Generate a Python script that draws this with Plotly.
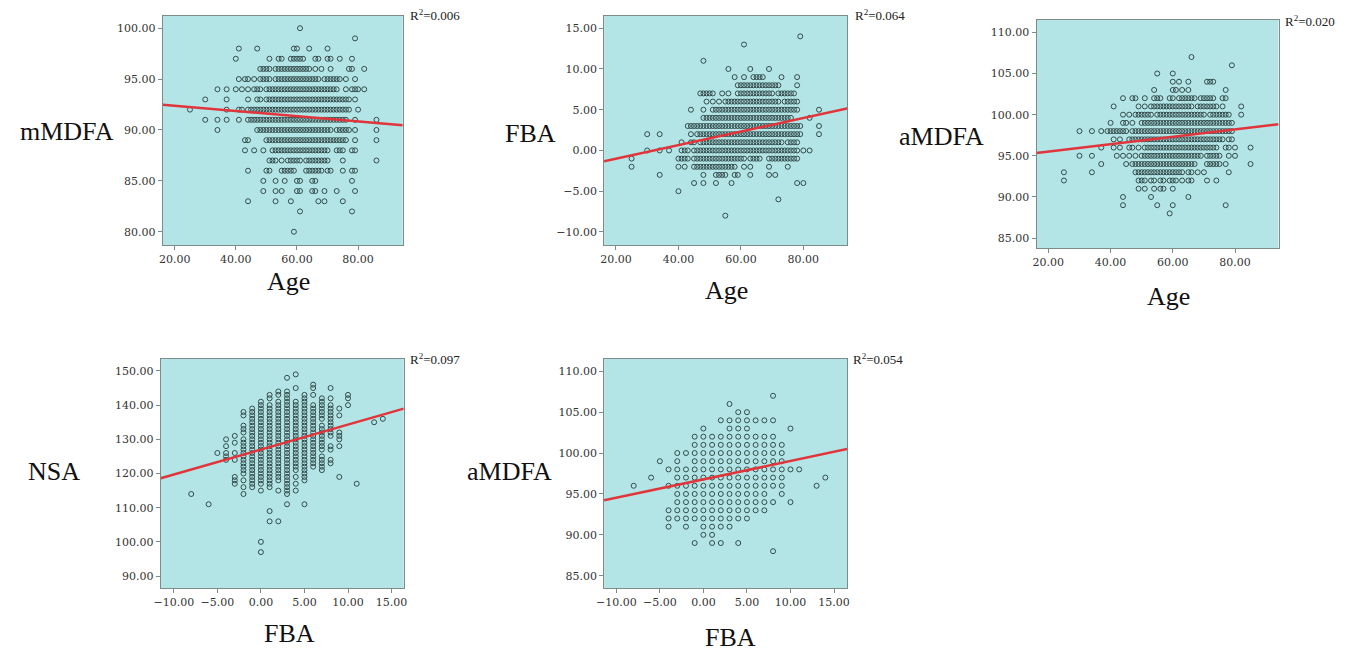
import plotly.graph_objects as go

W, H = 1349, 652

# ---------------- Panel 1: mMDFA vs Age (rows: y value -> ages) ----------------
P1_Y = [100, 99, 98, 97, 96, 95, 94, 93, 92, 91, 90, 89, 88, 87, 86, 85, 84, 83, 82, 80]
P1_X = [
    [61],
    [79],
    [41, 47, 59, 60, 64, 70],
    [40, 51, 54, 55, 58, 59, 60, 61, 62, 66, 67, 70, 71, 74, 78],
    [48, 49, 50, 51, 53, 54, 55, 56, 57, 58, 59, 60, 61, 62, 63, 64, 66, 68, 71, 77, 78, 82],
    [41, 43, 44, 46, 48, 49, 50, 51, 53, 54, 55, 56, 57, 58, 59, 60, 61, 62, 63, 64, 65, 66, 67, 69, 70, 71, 72, 73, 74, 76, 79],
    [34, 37, 40, 42, 44, 46, 47, 48, 50, 51, 52, 53, 54, 55, 56, 57, 58, 59, 60, 61, 62, 63, 64, 65, 66, 67, 68, 69, 70, 71, 72, 73, 76, 78, 79, 80, 82],
    [30, 37, 44, 47, 48, 50, 51, 52, 53, 54, 55, 56, 57, 58, 59, 60, 61, 62, 63, 64, 65, 66, 67, 68, 69, 70, 71, 72, 73, 74, 75, 76, 77, 79],
    [25, 37, 41, 42, 44, 45, 46, 47, 48, 49, 50, 51, 52, 53, 54, 55, 56, 57, 58, 59, 60, 61, 62, 63, 64, 65, 66, 67, 68, 69, 70, 71, 72, 73, 74, 75, 76, 77, 80],
    [30, 34, 37, 41, 44, 45, 46, 47, 48, 49, 50, 51, 52, 53, 54, 55, 56, 57, 58, 59, 60, 61, 62, 63, 64, 65, 66, 67, 68, 69, 70, 71, 72, 73, 74, 75, 76, 79, 86],
    [34, 47, 48, 49, 50, 51, 52, 53, 54, 55, 56, 57, 58, 59, 60, 61, 62, 63, 64, 65, 66, 67, 68, 69, 70, 71, 73, 74, 75, 76, 77, 79, 86],
    [43, 44, 50, 51, 52, 53, 54, 55, 56, 57, 58, 59, 60, 61, 62, 63, 64, 65, 66, 67, 68, 69, 70, 71, 72, 73, 74, 75, 76, 79, 86],
    [43, 46, 49, 52, 53, 54, 55, 56, 57, 58, 59, 60, 61, 62, 63, 64, 65, 66, 67, 68, 69, 70, 73, 74, 75, 78, 79],
    [51, 52, 53, 55, 57, 58, 59, 60, 61, 63, 64, 65, 66, 67, 68, 69, 70, 75, 86],
    [44, 50, 51, 55, 56, 57, 58, 59, 63, 64, 65, 66, 67, 68, 70, 71, 75, 78, 79],
    [49, 53, 56, 60, 61, 65, 66, 78],
    [49, 53, 55, 60, 61, 65, 66, 69, 73, 79],
    [44, 53, 58, 67, 69, 75],
    [61, 78],
    [59],
]

# ---------------- Panel 2: FBA vs Age ----------------
P2_Y = [14, 13, 11, 10, 9, 8, 7, 6, 5, 4, 3, 2, 1, 0, -1, -2, -3, -4, -5, -6, -8]
P2_X = [
    [79],
    [61],
    [48],
    [56, 63, 69],
    [58, 61, 64, 65, 66, 67, 73, 78],
    [59, 60, 61, 62, 63, 64, 65, 66, 67, 68, 69, 70, 71, 72, 78],
    [47, 48, 49, 50, 51, 54, 56, 59, 60, 61, 62, 63, 64, 65, 66, 67, 68, 69, 70, 72, 73, 74, 75, 76, 77],
    [49, 51, 53, 55, 56, 57, 58, 59, 60, 61, 62, 63, 64, 65, 66, 67, 68, 69, 70, 71, 72, 74, 75, 76, 77, 78],
    [44, 48, 51, 52, 53, 54, 55, 56, 57, 58, 59, 60, 61, 62, 63, 64, 65, 66, 67, 68, 69, 70, 71, 72, 73, 74, 75, 76, 77, 78, 85],
    [48, 49, 50, 51, 52, 53, 54, 55, 56, 57, 58, 59, 60, 61, 62, 63, 64, 65, 66, 67, 68, 69, 70, 71, 72, 73, 74, 75, 76, 82],
    [43, 44, 45, 46, 47, 48, 49, 50, 51, 52, 53, 54, 55, 56, 57, 58, 59, 60, 61, 62, 63, 64, 65, 66, 67, 68, 69, 70, 71, 72, 73, 74, 75, 76, 77, 78, 79, 85],
    [30, 34, 44, 46, 47, 48, 49, 50, 51, 52, 53, 54, 55, 56, 57, 58, 59, 60, 61, 62, 63, 64, 65, 66, 67, 68, 69, 70, 71, 72, 73, 74, 75, 76, 77, 78, 79, 85],
    [41, 44, 45, 47, 48, 49, 50, 51, 52, 53, 54, 55, 56, 57, 58, 59, 60, 61, 62, 63, 64, 65, 66, 67, 68, 69, 70, 71, 72, 73, 75, 76, 77, 78],
    [30, 34, 37, 41, 42, 43, 45, 46, 47, 48, 49, 50, 51, 52, 53, 54, 55, 56, 57, 58, 59, 60, 61, 62, 63, 64, 65, 66, 67, 68, 69, 70, 71, 72, 73, 74, 75, 76, 77, 78, 80, 82],
    [25, 40, 41, 42, 43, 45, 46, 47, 48, 49, 50, 51, 52, 53, 54, 55, 56, 57, 58, 59, 60, 61, 63, 64, 65, 66, 69, 70, 71, 72, 73, 74, 75, 76, 77, 78],
    [25, 40, 42, 45, 46, 47, 48, 49, 50, 51, 52, 53, 54, 55, 56, 57, 58, 61, 63, 69, 75],
    [34, 48, 52, 53, 54, 55, 58, 59, 63, 69, 71],
    [45, 48, 52, 57, 78, 80],
    [40],
    [72],
    [55],
]

# ---------------- Panel 3: aMDFA vs Age ----------------
P3_Y = [107, 106, 105, 104, 103, 102, 101, 100, 99, 98, 97, 96, 95, 94, 93, 92, 91, 90, 89, 88]
P3_X = [
    [66],
    [79],
    [55, 60],
    [60, 62, 65, 71, 72, 73],
    [54, 60, 61, 63, 65, 77],
    [44, 47, 48, 51, 54, 55, 56, 59, 60, 62, 63, 64, 65, 66, 67, 69, 70, 71, 72, 73, 76, 77],
    [41, 49, 51, 53, 54, 55, 56, 57, 58, 59, 60, 61, 62, 63, 64, 65, 66, 68, 69, 70, 71, 72, 73, 74, 76, 82],
    [44, 46, 48, 49, 50, 51, 52, 53, 55, 56, 57, 58, 59, 60, 61, 62, 63, 64, 65, 66, 67, 68, 69, 70, 72, 73, 74, 75, 76, 77, 78, 82],
    [40, 44, 45, 47, 50, 51, 52, 53, 54, 55, 56, 57, 58, 59, 60, 61, 62, 63, 64, 65, 66, 67, 68, 69, 70, 71, 72, 73, 74, 75, 76, 77, 78, 79],
    [30, 34, 37, 39, 40, 41, 42, 43, 44, 45, 47, 48, 49, 50, 51, 52, 53, 54, 55, 56, 57, 58, 59, 60, 61, 62, 63, 64, 65, 66, 67, 68, 69, 70, 71, 72, 73, 74, 75, 76, 77, 78, 79],
    [41, 43, 46, 47, 48, 49, 50, 51, 52, 53, 54, 55, 56, 57, 58, 59, 60, 61, 62, 63, 64, 65, 66, 67, 68, 69, 70, 71, 72, 73, 74, 75, 76, 78, 79],
    [37, 41, 43, 46, 47, 49, 51, 52, 53, 54, 55, 56, 57, 58, 59, 60, 61, 62, 63, 64, 65, 66, 67, 68, 69, 70, 71, 72, 73, 74, 77, 78, 80, 85],
    [30, 34, 42, 44, 46, 48, 50, 51, 52, 53, 54, 55, 56, 57, 58, 59, 60, 61, 62, 63, 64, 65, 66, 67, 68, 69, 71, 72, 73, 74, 75, 78, 80],
    [37, 45, 47, 48, 49, 50, 51, 52, 53, 54, 55, 56, 57, 58, 59, 60, 61, 62, 63, 64, 65, 66, 67, 71, 72, 73, 74, 75, 77, 85],
    [25, 34, 48, 49, 50, 51, 52, 53, 54, 55, 56, 57, 58, 59, 60, 61, 62, 63, 65, 66, 68, 70, 78],
    [25, 49, 50, 51, 53, 54, 56, 57, 59, 60, 61, 63, 65, 66, 71, 74],
    [49, 51, 54, 56, 57, 60],
    [44, 53, 65],
    [44, 55, 60, 77],
    [59],
]

# ---------------- Panel 4: NSA vs FBA (columns: FBA value -> NSA values) ----------------
P4_X = [-8, -6, -5, -4, -3, -2, -1, 0, 1, 2, 3, 4, 5, 6, 7, 8, 9, 10, 11, 13, 14]
P4_Y = [
    [114],
    [111],
    [126],
    [130, 128, 126, 125, 124],
    [131, 129, 126, 124, 119, 118, 117],
    [138, 137, 134, 133, 132, 130, 129, 128, 127, 126, 125, 124, 123, 122, 121, 120, 118, 116, 114],
    [139, 138, 137, 136, 135, 134, 133, 132, 131, 130, 129, 128, 127, 126, 125, 124, 123, 122, 121, 120, 119, 118, 117, 116],
    [141, 140, 139, 138, 137, 136, 135, 134, 133, 132, 131, 130, 129, 128, 127, 126, 125, 124, 123, 122, 121, 120, 119, 118, 117, 115, 100, 97],
    [143, 142, 140, 139, 138, 137, 136, 135, 134, 133, 132, 131, 130, 129, 128, 127, 126, 125, 124, 123, 122, 121, 120, 119, 118, 117, 116, 109, 106],
    [144, 143, 141, 140, 139, 138, 137, 136, 135, 134, 133, 132, 131, 130, 129, 128, 127, 126, 125, 124, 123, 122, 121, 120, 119, 118, 115, 106],
    [148, 144, 143, 142, 141, 140, 139, 138, 137, 136, 135, 134, 133, 132, 131, 130, 129, 128, 127, 126, 125, 124, 123, 122, 121, 120, 119, 118, 117, 116, 115, 114, 111],
    [149, 145, 141, 140, 139, 138, 137, 136, 135, 134, 133, 132, 131, 130, 129, 128, 127, 126, 125, 124, 123, 122, 121, 119, 117, 115],
    [143, 142, 141, 140, 139, 138, 137, 136, 135, 134, 133, 132, 131, 130, 129, 128, 127, 126, 125, 124, 123, 122, 121, 120, 119, 118, 111],
    [146, 145, 143, 140, 139, 138, 137, 136, 135, 134, 133, 132, 131, 130, 129, 128, 127, 126, 125, 124, 123, 122],
    [142, 141, 140, 139, 138, 137, 136, 134, 133, 132, 131, 130, 129, 128, 127, 125, 124, 123, 122, 121],
    [145, 142, 140, 139, 138, 137, 136, 135, 134, 133, 132, 131, 128, 127, 124, 123],
    [139, 137, 132, 131, 130, 128, 119],
    [143, 142, 140],
    [117],
    [135],
    [136],
]

# ---------------- Panel 5: aMDFA vs FBA (rows: aMDFA value -> FBA values) ----------------
P5_Y = [107, 106, 105, 104, 103, 102, 101, 100, 99, 98, 97, 96, 95, 94, 93, 92, 91, 90, 89, 88]
P5_X = [
    [8],
    [3],
    [4, 5],
    [2, 3, 4, 5, 6, 7, 8],
    [0, 3, 4, 5, 10],
    [-1, 0, 1, 2, 3, 4, 5, 6, 7, 8],
    [-1, 0, 1, 2, 3, 4, 5, 6, 7, 8, 9],
    [-3, -2, -1, 0, 1, 2, 3, 4, 5, 6, 7, 8, 9],
    [-5, -3, -1, 0, 1, 2, 3, 4, 5, 6, 7, 8, 9],
    [-4, -3, -2, -1, 0, 1, 2, 3, 4, 5, 6, 7, 8, 9, 10, 11],
    [-6, -3, -2, -1, 0, 1, 2, 3, 4, 5, 6, 7, 8, 9, 14],
    [-8, -4, -3, -2, -1, 0, 1, 2, 3, 4, 5, 6, 7, 8, 9, 13],
    [-3, -2, -1, 0, 1, 2, 3, 4, 5, 6, 7, 9],
    [-3, -2, -1, 0, 1, 2, 3, 4, 5, 6, 7, 8, 10],
    [-4, -3, -2, -1, 0, 1, 2, 3, 4, 5, 6, 7],
    [-4, -3, -2, -1, 0, 1, 2, 3, 4, 5],
    [-4, -2, 0, 1, 2, 3],
    [0, 1],
    [-1, 1, 2, 4],
    [8],
]

# Linear fit lines (intercept, slope) and R² labels
FIT_INTERCEPT = [92.89, -2.68, 94.62, 127.0, 96.78]
FIT_SLOPE = [-0.0257, 0.0834, 0.0449, 0.731, 0.2247]
R2_LABELS = ["0.006", "0.064", "0.020", "0.097", "0.054"]

Y_TITLES = ["mMDFA", "FBA", "aMDFA", "NSA", "aMDFA"]
X_TITLES = ["Age", "Age", "Age", "FBA", "FBA"]

# ---------------- layout geometry (pixels) ----------------
RECTS = [  # left, right, top, bottom
    (156, 398, 16, 245),
    (601, 846, 16, 245),
    (1037, 1281, 20, 248),
    (154, 399, 359, 588),
    (601, 846, 359, 588),
]
XRANGES = [(16.1, 94.6), (16.2, 94.0), (16.2, 94.0), (-11.5, 16.4), (-11.4, 16.5)]
YRANGES = [(78.7, 101.2), (-11.6, 16.5), (83.8, 111.5), (86.5, 153.5), (83.5, 111.5)]
XTICKS = [[20, 40, 60, 80]] * 3 + [[-10, -5, 0, 5, 10, 15]] * 2
YTICKS = [[80, 85, 90, 95, 100], [-10, -5, 0, 5, 10, 15], [85, 90, 95, 100, 105, 110],
          [90, 100, 110, 120, 130, 140, 150], [85, 90, 95, 100, 105, 110]]
YTITLE_POS = [(59, 131), (527, 133), (941, 136), (46, 471), (506, 471)]
XTITLE_POS = [(283, 281), (724, 290), (1170, 297), (284, 633), (728, 637)]
R2_POS = [(403, 15), (852, 15), (1285, 21), (403, 359), (850, 359)]


def px(x):
    return x / W


def py(y):
    return 1 - y / H


BG = "#b3e5e6"
MARK = "#344c4c"
RED = "#e2353b"
FRAME = "#7d8b8b"
TICKFONT = dict(family="DejaVu Serif", size=11, color="#333333")
TITLEFONT = dict(family="Liberation Serif", size=26, color="#111111")


def expand_rows(ys, xs_rows):
    xs, yy = [], []
    for y, row in zip(ys, xs_rows):
        for x in row:
            xs.append(x)
            yy.append(y)
    return xs, yy


def expand_cols(xs, ys_cols):
    xx, yy = [], []
    for x, col in zip(xs, ys_cols):
        for y in col:
            xx.append(x)
            yy.append(y)
    return xx, yy


points = [
    expand_rows(P1_Y, P1_X),
    expand_rows(P2_Y, P2_X),
    expand_rows(P3_Y, P3_X),
    expand_cols(P4_X, P4_Y),
    expand_rows(P5_Y, P5_X),
]

fig = go.Figure()
annotations = []

for i in range(5):
    n = "" if i == 0 else str(i + 1)
    xa, ya = "x" + n, "y" + n
    xs, ys = points[i]
    fig.add_trace(go.Scatter(
        x=xs, y=ys, mode="markers", xaxis=xa, yaxis=ya, showlegend=False,
        marker=dict(symbol="circle-open", size=5, color=MARK, line=dict(width=1, color=MARK)),
        hoverinfo="x+y",
    ))
    x0, x1 = XRANGES[i]
    fig.add_trace(go.Scatter(
        x=[x0, x1],
        y=[FIT_INTERCEPT[i] + FIT_SLOPE[i] * x0, FIT_INTERCEPT[i] + FIT_SLOPE[i] * x1],
        mode="lines", xaxis=xa, yaxis=ya, showlegend=False,
        line=dict(color=RED, width=2.5), hoverinfo="skip",
    ))
    l, r, t, b = RECTS[i]
    axis_common = dict(showgrid=False, zeroline=False, showline=True, linecolor=FRAME, linewidth=1,
                       mirror=True, ticks="outside", ticklen=4, tickcolor=FRAME, tickwidth=1,
                       tickfont=TICKFONT, tickformat=".2f", fixedrange=True)
    fig.layout["xaxis" + n] = dict(domain=[px(l), px(r)], range=list(XRANGES[i]), anchor=ya,
                                   tickvals=XTICKS[i], **axis_common)
    fig.layout["yaxis" + n] = dict(domain=[py(b), py(t)], range=list(YRANGES[i]), anchor=xa,
                                   tickvals=YTICKS[i], **axis_common)
    fig.add_shape(type="rect", xref=xa + " domain", yref=ya + " domain", x0=0, x1=1, y0=0, y1=1,
                  fillcolor=BG, line=dict(width=0), layer="below")
    cx, cy = YTITLE_POS[i]
    annotations.append(dict(text=Y_TITLES[i], x=px(cx), y=py(cy), xref="paper", yref="paper",
                            xanchor="center", yanchor="middle", showarrow=False, font=TITLEFONT))
    cx, cy = XTITLE_POS[i]
    annotations.append(dict(text=X_TITLES[i], x=px(cx), y=py(cy), xref="paper", yref="paper",
                            xanchor="center", yanchor="middle", showarrow=False, font=TITLEFONT))
    rx, ry = R2_POS[i]
    annotations.append(dict(text="R<sup>2</sup>=" + R2_LABELS[i], x=px(rx), y=py(ry),
                            xref="paper", yref="paper", xanchor="left", yanchor="middle",
                            showarrow=False, font=dict(family="Liberation Serif", size=13, color="#222222")))

fig.update_layout(
    width=W, height=H, margin=dict(l=0, r=0, t=0, b=0),
    paper_bgcolor="white", plot_bgcolor="rgba(0,0,0,0)",
    annotations=annotations,
)

fig.write_html(
    "out.html",
    config={"displayModeBar": False},
    post_script="document.body.style.margin='0';document.body.style.padding='0';document.body.style.overflow='hidden';",
)
